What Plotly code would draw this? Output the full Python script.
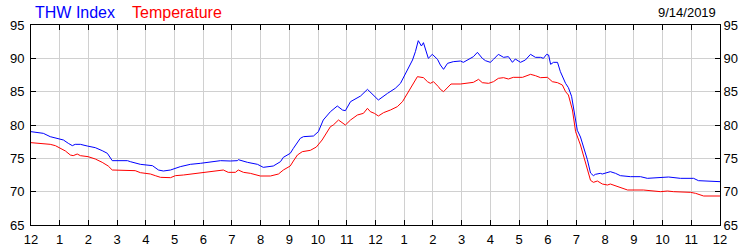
import plotly.graph_objects as go

# Hours since midnight (0..24) and readings
thw_hours = [0, 0.43, 0.67, 1.02, 1.13, 1.30, 1.44, 1.54, 1.72, 1.96, 2.24, 2.48, 2.66, 2.83,
             3.36, 3.46, 3.81, 4.23, 4.44, 4.61, 4.86, 5.20, 5.55, 5.90, 6.25, 6.60, 6.94,
             7.19, 7.22, 7.54, 7.89, 8.09, 8.44, 8.69, 8.79, 9.03, 9.14, 9.28, 9.38, 9.49,
             9.84, 10.01, 10.18, 10.43, 10.67, 10.85, 10.95, 11.13, 11.48, 11.72, 11.89,
             12.10, 12.42, 12.69, 12.87, 13.11, 13.29, 13.39, 13.49, 13.60, 13.67, 13.84,
             13.98, 14.16, 14.26, 14.37, 14.51, 14.71, 14.96, 15.06, 15.20, 15.41, 15.55,
             15.72, 15.83, 16.00, 16.11, 16.28, 16.46, 16.63, 16.77, 16.87, 17.05, 17.22,
             17.40, 17.57, 17.75, 17.85, 17.96, 18.03, 18.10, 18.20, 18.34, 18.44, 18.62,
             18.72, 18.83, 18.93, 19.03, 19.14, 19.24, 19.38, 19.49, 19.59, 19.66, 19.83,
             19.90, 20.18, 20.36, 20.53, 20.88, 21.06, 21.23, 21.47, 22.21, 22.62, 23.08,
             23.25, 23.56, 24.0]
thw_values = [79.0, 78.75, 78.25, 77.9, 77.75, 77.25, 76.9, 77.1, 77.1, 76.85, 76.6, 76.15, 75.75, 74.65,
              74.65, 74.5, 74.1, 73.9, 73.25, 73.1, 73.25, 73.75, 74.1, 74.25, 74.4, 74.65, 74.6,
              74.65, 74.8, 74.4, 74.1, 73.65, 73.85, 74.5, 75.15, 75.75, 76.5, 77.5, 78.0, 78.25,
              78.35, 79.0, 80.75, 82.0, 82.85, 82.25, 82.15, 83.5, 84.35, 85.35, 84.65,
              83.75, 84.75, 85.5, 86.25, 88.25, 89.75, 91.0, 92.65, 91.85, 92.35, 90.0,
              90.6, 89.85, 89.0, 88.35, 89.25, 89.5, 89.6, 89.4, 89.75, 90.25, 90.9,
              90.0, 89.65, 89.4, 89.85, 90.6, 90.15, 90.25, 89.4, 89.9, 89.4, 89.75,
              90.6, 90.15, 90.15, 90.0, 90.6, 90.5, 89.1, 89.4, 89.4, 88.0, 86.25,
              85.6, 84.3, 81.5, 79.2, 78.2, 76.8, 74.8, 72.8, 72.4, 72.6, 72.75,
              72.65, 73.0, 72.75, 72.4, 72.25, 72.3, 72.25, 72.0, 72.2, 72.0, 72.0,
              71.65, 71.6, 71.5]

temp_hours = [0, 0.43, 0.67, 0.85, 1.02, 1.20, 1.37, 1.47, 1.61, 1.72, 1.99, 2.24, 2.48, 2.69, 2.83,
              3.46, 3.63, 3.81, 4.16, 4.33, 4.51, 4.86, 5.03, 5.31, 5.79, 6.14, 6.35, 6.70, 6.87,
              7.12, 7.22, 7.40, 7.64, 7.99, 8.34, 8.62, 8.79, 9.03, 9.14, 9.28, 9.45, 9.73, 9.94,
              10.08, 10.14, 10.43, 10.53, 10.71, 10.85, 10.95, 11.13, 11.37, 11.58, 11.72, 11.82,
              11.96, 12.10, 12.28, 12.52, 12.76, 12.94, 13.15, 13.32, 13.46, 13.67, 13.81, 13.91,
              14.02, 14.19, 14.26, 14.37, 14.63, 14.96, 15.20, 15.41, 15.59, 15.72, 15.94, 16.11,
              16.28, 16.46, 16.63, 16.80, 17.12, 17.29, 17.40, 17.57, 17.75, 17.99, 18.16, 18.34,
              18.51, 18.62, 18.72, 18.86, 18.97, 19.14, 19.24, 19.38, 19.49, 19.59, 19.73, 19.90,
              20.08, 20.18, 20.36, 20.53, 20.78, 21.33, 21.58, 21.93, 22.17, 22.38, 22.97, 23.15,
              23.43, 24.0]
temp_values = [77.35, 77.15, 77.1, 76.9, 76.5, 76.1, 75.5, 75.4, 75.65, 75.4, 75.25, 74.9, 74.4, 73.85, 73.25,
               73.25, 73.15, 72.85, 72.65, 72.4, 72.15, 72.1, 72.4, 72.5, 72.75, 72.9, 73.1, 73.25, 72.9,
               72.9, 73.25, 72.9, 72.75, 72.35, 72.35, 72.65, 73.25, 73.85, 74.6, 75.5, 76.0, 76.2, 76.7,
               77.5, 77.75, 79.75, 80.0, 80.75, 80.25, 80.0, 80.75, 81.5, 81.75, 82.5, 82.0,
               81.75, 81.35, 81.85, 82.25, 82.75, 83.5, 85.0, 86.25, 87.25, 87.1, 86.5, 86.25,
               86.5, 85.75, 85.35, 85.0, 86.15, 86.15, 86.25, 86.4, 86.85, 86.35, 86.25, 86.5,
               87.0, 87.1, 86.9, 87.15, 87.15, 87.4, 87.6, 87.4, 87.1, 87.15, 86.5, 86.35,
               86.0, 85.0, 84.5, 82.25, 79.0, 77.0, 75.5, 73.25, 71.7, 71.4, 71.6, 71.15,
               71.0, 71.15, 70.85, 70.65, 70.25, 70.25, 70.1, 70.0, 70.1, 70.0, 69.9, 69.75,
               69.35, 69.35]

x_tick_vals = list(range(0, 25))
x_tick_text = ["12", "1", "2", "3", "4", "5", "6", "7", "8", "9", "10", "11",
               "12", "1", "2", "3", "4", "5", "6", "7", "8", "9", "10", "11", "12"]
y_tick_vals = [65, 70, 75, 80, 85, 90, 95]

series_names = ["THW Index", "Temperature"]
series_colors = ["#0000ff", "#ff0000"]
date_label = "9/14/2019"

FONT = "Arial, Liberation Sans, sans-serif"

fig = go.Figure()
fig.add_trace(go.Scatter(x=thw_hours, y=thw_values, mode="lines", name=series_names[0],
                         line=dict(color=series_colors[0], width=1), yaxis="y"))
fig.add_trace(go.Scatter(x=temp_hours, y=temp_values, mode="lines", name=series_names[1],
                         line=dict(color=series_colors[1], width=1), yaxis="y2"))

axis_common = dict(
    showgrid=True, gridcolor="#d0d0d0", gridwidth=1,
    ticks="inside", ticklen=5, tickcolor="black", tickwidth=1,
    showline=True, linecolor="black", linewidth=1,
    zeroline=False, automargin=False,
    tickfont=dict(family=FONT, size=13, color="black"),
)

fig.update_layout(
    width=750, height=250,
    margin=dict(l=31, r=30, t=25, b=25),
    paper_bgcolor="white", plot_bgcolor="white",
    showlegend=False,
    xaxis=dict(range=[0, 24], tickvals=x_tick_vals, ticktext=x_tick_text,
               mirror="ticks", ticklabelstandoff=2, **axis_common),
    yaxis=dict(range=[65, 95], tickvals=y_tick_vals, mirror=False, ticklabelstandoff=3, **axis_common),
    yaxis2=dict(range=[65, 95], tickvals=y_tick_vals, overlaying="y", side="right",
                **{**axis_common, "showgrid": False}),
    annotations=[
        dict(text=series_names[0], x=33, y=13, xref="paper", yref="paper", showarrow=False,
             font=dict(family=FONT, size=16, color=series_colors[0]), xanchor="left", yanchor="middle"),
        dict(text=series_names[1], x=130, y=13, xref="paper", yref="paper", showarrow=False,
             font=dict(family=FONT, size=16, color=series_colors[1]), xanchor="left", yanchor="middle"),
        dict(text=date_label, x=718, y=12, xref="paper", yref="paper", showarrow=False,
             font=dict(family=FONT, size=13, color="black"), xanchor="right", yanchor="middle"),
    ],
)

# convert the pixel-placed annotation anchors into paper coordinates
for a in fig.layout.annotations:
    a.x = (a.x - 31) / 689
    a.y = (225 - a.y) / 200

fig.write_html("out.html")
